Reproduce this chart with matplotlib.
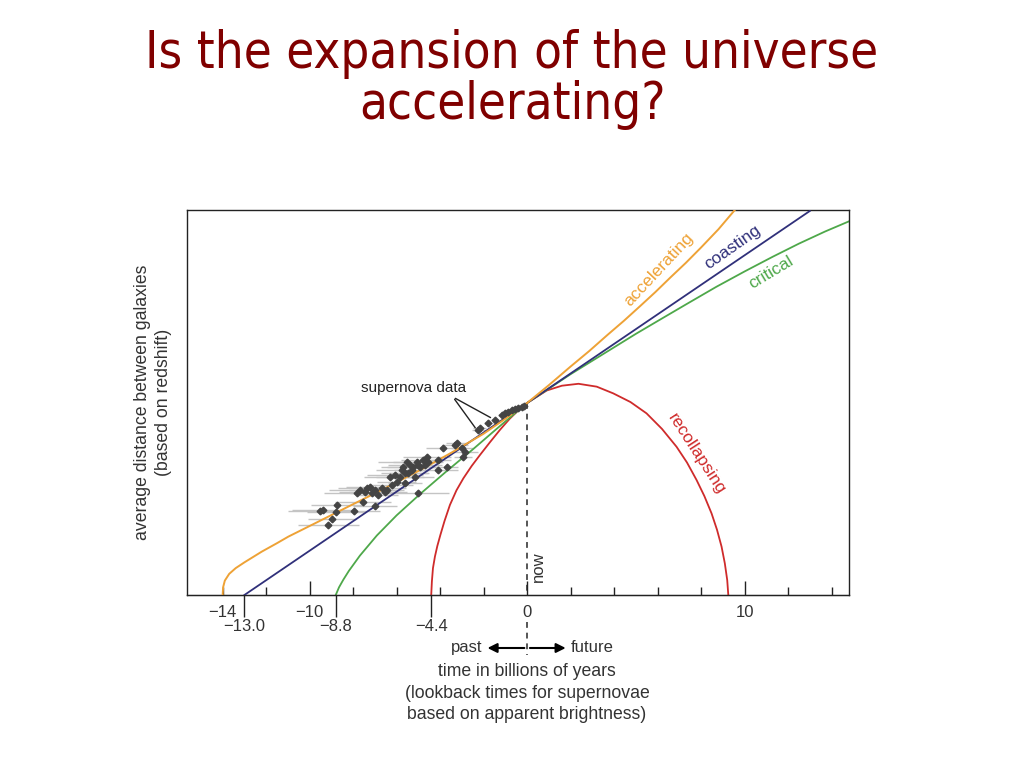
import matplotlib.pyplot as plt

plt.rcParams['font.family'] = ['Liberation Sans', 'DejaVu Sans']

# time in billions of years (0 = now) vs. average spacing of galaxies (1 = today)
acc_t = [-14.0, -13.98, -13.9, -13.7, -13.4, -13.0, -12.2, -11.5, -10.98, -9.76, -8.53,
         -7.31, -6.08, -4.85, -3.5, -2.0, -1.0, 0.0, 1.0, 2.0, 2.85, 3.7, 4.45, 5.2,
         5.9, 6.6, 7.3, 8.0, 8.8, 9.55]
acc_a = [0.0, 0.04, 0.075, 0.11, 0.14, 0.17, 0.226, 0.27, 0.304, 0.373, 0.443,
         0.512, 0.582, 0.655, 0.74, 0.84, 0.918, 1.0, 1.093, 1.19, 1.27, 1.355, 1.428, 1.505,
         1.578, 1.655, 1.73, 1.81, 1.905, 2.005]

coast_t = [-13.0, 0.0, 13.0]
coast_a = [0.0, 1.0, 2.0]

crit_t = [-8.8, -8.65, -8.45, -8.2, -7.69, -6.91, -6.0, -4.93, -3.7, -2.48, -1.25, 0.0,
          1.0, 2.0, 3.5, 5.0, 6.2, 7.33, 8.7, 10.0, 11.3, 12.5, 13.7, 14.8]
crit_a = [0.0, 0.04, 0.08, 0.125, 0.205, 0.31, 0.415, 0.525, 0.645, 0.76, 0.88, 1.0,
          1.075, 1.15, 1.255, 1.36, 1.44, 1.515, 1.605, 1.685, 1.762, 1.83, 1.893, 1.946]

rec_t = [-4.41, -4.38, -4.33, -4.24, -4.13, -3.99, -3.8, -3.55, -3.25, -2.93, -2.55,
         -2.17, -1.7, -1.25, -0.8, -0.33, 0.0, 0.9, 1.6, 2.36, 3.2, 3.96, 4.75, 5.49,
         6.2, 6.87, 7.35, 7.79, 8.15, 8.48, 8.73, 8.94, 9.09, 9.2, 9.25]
rec_a = [0.0, 0.07, 0.14, 0.2, 0.255, 0.3125, 0.385, 0.469, 0.545, 0.608, 0.672,
         0.729, 0.797, 0.86, 0.918, 0.97, 1.0, 1.065, 1.09, 1.1, 1.085, 1.05, 1.005, 0.946,
         0.865, 0.772, 0.69, 0.599, 0.515, 0.425, 0.34, 0.252, 0.165, 0.078, 0.0]

# supernova data: lookback time, spacing, horizontal error
sn_t = [-9.51, -9.40, -8.76, -8.81, -8.96, -9.14, -7.98, -7.0, -7.54,
        -7.84, -7.69, -7.46, -7.38, -7.23, -7.15, -7.0, -6.85, -6.69, -6.54, -6.46,
        -6.31, -6.23, -6.08, -6.0, -5.85, -5.77, -5.70, -5.62, -5.62, -5.54, -5.47,
        -5.39, -5.31, -5.24, -5.16, -5.08, -5.01, -5.01, -4.93, -4.78, -4.70, -4.62,
        -4.55, -4.09, -4.09, -3.70, -3.86, -3.32, -3.24, -3.01, -2.94, -2.86,
        -2.25, -2.17, -1.79, -1.48,
        -1.17, -1.02, -0.87, -0.71, -0.56, -0.41, -0.25, -0.15]
sn_a = [0.437, 0.443, 0.469, 0.43, 0.395, 0.366, 0.435, 0.461, 0.486,
        0.53, 0.547, 0.538, 0.556, 0.564, 0.53, 0.547, 0.521, 0.556, 0.538, 0.547,
        0.616, 0.573, 0.625, 0.59, 0.616, 0.651, 0.668, 0.582, 0.634, 0.694, 0.634,
        0.677, 0.651, 0.668, 0.616, 0.694, 0.677, 0.53, 0.668, 0.703, 0.677, 0.72,
        0.694, 0.703, 0.651, 0.668, 0.764, 0.781, 0.79, 0.764, 0.72, 0.746,
        0.859, 0.868, 0.894, 0.911,
        0.9375, 0.946, 0.955, 0.964, 0.969, 0.976, 0.981, 0.986]
sn_err = [1.5, 1.4, 1.2, 1.3, 1.1, 1.4, 1.2, 1.0, 1.3,
          1.5, 1.4, 1.2, 1.3, 1.1, 1.0, 1.2, 0.9, 1.1, 1.0, 0.8,
          1.2, 1.0, 1.3, 0.9, 1.1, 1.2, 1.0, 0.8, 1.1, 1.3, 0.9,
          1.0, 0.8, 1.2, 0.9, 1.1, 0.7, 1.4, 0.9, 1.0, 0.8, 1.1,
          0.7, 0.6, 0.9, 0.5, 0.8, 0.6, 0.5, 0.5, 0.4, 0.6,
          0.3, 0.3, 0.2, 0.2,
          0.15, 0.15, 0.1, 0.1, 0.1, 0.1, 0.1, 0.1]

big_ticks = [-10, 0, 10]
small_ticks = [-14, -12, -8, -6, -4, -2, 2, 4, 6, 8, 12, 14]
small_labels = ['\u221214'] + [''] * 11
start_ticks = [-13.0, -8.8, -4.4]

now_t, now_a = 0.0, 1.0

c_acc = '#eea236'
c_coast = '#30307a'
c_crit = '#4ea84a'
c_rec = '#cf2b2b'
txt = '#333333'

fig = plt.figure(figsize=(10.24, 7.68), dpi=100)
ax = fig.add_axes([187 / 1024, 1 - 595 / 768, 662 / 1024, 385 / 768])

ax.errorbar(sn_t, sn_a, xerr=sn_err, fmt='none', ecolor='#c4c4c4', elinewidth=1,
            capsize=0, zorder=1)
ax.plot(rec_t, rec_a, color=c_rec, lw=1.3, zorder=2)
ax.plot(crit_t, crit_a, color=c_crit, lw=1.3, zorder=2)
ax.plot(coast_t, coast_a, color=c_coast, lw=1.3, zorder=3)
ax.plot(acc_t, acc_a, color=c_acc, lw=1.4, zorder=3)
ax.plot(sn_t, sn_a, 'D', ms=3.4, color='#444444', zorder=4, lw=0)

ax.set_xlim(-15.64, 14.8)
ax.set_ylim(0, 2.005)
ax.set_yticks([])

ax.set_xticks(big_ticks, labels=[f'{v}'.replace('-', '\u2212') for v in big_ticks])
ax.set_xticks(small_ticks, labels=small_labels, minor=True)
ax.tick_params(which='major', direction='in', length=10, width=1, pad=7,
               labelsize=12, labelcolor=txt, color='#222222')
ax.tick_params(which='minor', direction='in', length=6, width=1, pad=7,
               labelsize=12, labelcolor=txt, color='#222222')
for s in ax.spines.values():
    s.set_color('#222222')
    s.set_linewidth(1)

sec = ax.secondary_xaxis('bottom')
sec.set_xticks(start_ticks, labels=[f'{v:.1f}'.replace('-', '\u2212') for v in start_ticks])
sec.tick_params(direction='out', length=16, width=1, pad=1.5, labelsize=12,
                labelcolor=txt, color='#222222')

# "now" marker, broken around the 0 label
dash = dict(ls=(0, (3, 2.5)), color='#555555', lw=1.4, clip_on=False, zorder=1)
ax.plot([now_t, now_t], [now_a, 0.0], **dash)
ax.plot([now_t, now_t], [-0.14, -0.31], **dash)
ax.text(0.5, 0.15, 'now', rotation=90, ha='center', va='center', fontsize=12, color=txt)

# curve labels
ax.text(6.06, 1.693, 'accelerating', rotation=47, ha='center', va='center',
        fontsize=12.5, color=c_acc)
ax.text(9.45, 1.81, 'coasting', rotation=35, ha='center', va='center',
        fontsize=12.5, color=c_coast)
ax.text(11.2, 1.682, 'critical', rotation=31, ha='center', va='center',
        fontsize=12.5, color=c_crit)
ax.text(7.8, 0.735, 'recollapsing', rotation=-57, ha='center', va='center',
        fontsize=12.5, color=c_rec)

ax.text(-5.2, 1.078, 'supernova data', ha='center', va='center', fontsize=11, color='#222222')
for tip in [(-2.31, 0.859), (-1.57, 0.917)]:
    ax.annotate('', xy=tip, xytext=(-3.41, 1.031),
                arrowprops=dict(arrowstyle='-', color='#222222', lw=1))

# past / future arrows
ya = -0.276
for end in (-1.95, 1.9):
    ax.annotate('', xy=(end, ya), xytext=(now_t, ya), annotation_clip=False,
                arrowprops=dict(arrowstyle='-|>', color='black', lw=1.5, mutation_scale=14))
ax.text(-2.05, ya, 'past', ha='right', va='center', fontsize=12, color=txt, clip_on=False)
ax.text(2.0, ya, 'future', ha='left', va='center', fontsize=12, color=txt, clip_on=False)

fig.text(527 / 1024, 1 - 693 / 768,
         'time in billions of years\n(lookback times for supernovae\nbased on apparent brightness)',
         ha='center', va='center', fontsize=12.7, color=txt, linespacing=1.36)
fig.text(153 / 1024, 1 - 402 / 768,
         'average distance between galaxies\n(based on redshift)',
         rotation=90, ha='center', va='center', fontsize=12.7, color=txt, linespacing=1.36,
         multialignment='center')

title_kw = dict(ha='center', va='baseline', fontsize=36.5, color='#800000',
                family=['DejaVu Sans'], fontstretch='condensed')
fig.text(0.5, 1 - 68 / 768, 'Is the expansion of the universe', **title_kw)
fig.text(0.5, 1 - 119 / 768, 'accelerating?', **title_kw)

fig.savefig('out.png', dpi=100)
